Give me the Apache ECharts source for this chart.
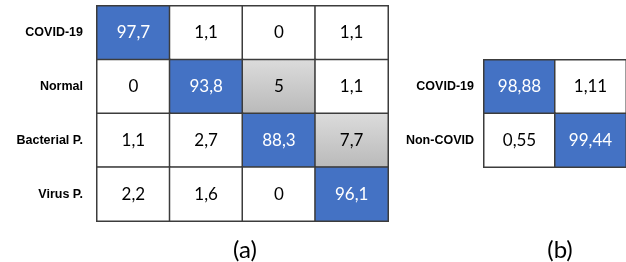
<!DOCTYPE html>
<html>
<head>
<meta charset="utf-8">
<script src="https://cdn.jsdelivr.net/npm/echarts@6/dist/echarts.min.js"></script>
<style>
  html, body { margin: 0; padding: 0; background: #fff; }
  #chart { width: 626px; height: 262px; }
</style>
</head>
<body>
<div id="chart"></div>
<script>
// matrice (a) : 4 classes
var classesA = ['COVID-19', 'Normal', 'Bacterial P.', 'Virus P.'];
var matrixA = [
  [97.7, 1.1, 0, 1.1],
  [0, 93.8, 5, 1.1],
  [1.1, 2.7, 88.3, 7.7],
  [2.2, 1.6, 0, 96.1]
];
// matrice (b) : 2 classes
var classesB = ['COVID-19', 'Non-COVID'];
var matrixB = [
  [98.88, 1.11],
  [0.55, 99.44]
];

var blue = '#4472c4';
var grey = {
  type: 'linear', x: 0, y: 0, x2: 0, y2: 1,
  colorStops: [{ offset: 0, color: '#dcdcdc' }, { offset: 1, color: '#b9b9b9' }]
};

function cells(m) {
  var out = [];
  m.forEach(function (row, r) {
    row.forEach(function (v, c) {
      var fill = '#ffffff', txt = '#000000';
      if (r === c) { fill = blue; txt = '#ffffff'; }
      else if (v >= 5) { fill = grey; }
      out.push({
        value: [c, r, v],
        itemStyle: { color: fill },
        label: { color: txt }
      });
    });
  });
  return out;
}

function fmt(p) {
  return String(p.value[2]).replace('.', ',');
}

var rowLabel = { color: '#000', fontFamily: 'Liberation Sans', fontWeight: 'bold', fontSize: 12.5 };

var chart = echarts.init(document.getElementById('chart'));

var option = {
  animation: false,
  grid: [
    { left: 97, top: 6, width: 291, height: 215 },
    { left: 484, top: 60, width: 146, height: 107 }
  ],
  xAxis: [
    { type: 'category', gridIndex: 0, data: classesA.map(function (d, i) { return i; }), show: false },
    { type: 'category', gridIndex: 1, data: classesB.map(function (d, i) { return i; }), show: false }
  ],
  yAxis: [
    {
      type: 'category', gridIndex: 0, data: classesA, inverse: true,
      axisLine: { show: false }, axisTick: { show: false },
      axisLabel: Object.assign({ margin: 14 }, rowLabel)
    },
    {
      type: 'category', gridIndex: 1, data: classesB, inverse: true,
      axisLine: { show: false }, axisTick: { show: false },
      axisLabel: Object.assign({ margin: 10 }, rowLabel)
    }
  ],
  series: [
    {
      type: 'heatmap', xAxisIndex: 0, yAxisIndex: 0,
      data: cells(matrixA),
      itemStyle: { borderColor: '#3c3c3c', borderWidth: 1.5 },
      label: { show: true, formatter: fmt, fontFamily: 'Lato', fontSize: 17 },
      emphasis: { disabled: true }
    },
    {
      type: 'heatmap', xAxisIndex: 1, yAxisIndex: 1,
      data: cells(matrixB),
      itemStyle: { borderColor: '#3c3c3c', borderWidth: 1.5 },
      label: { show: true, formatter: fmt, fontFamily: 'Lato', fontSize: 17 },
      emphasis: { disabled: true }
    }
  ],
  graphic: [
    { type: 'text', x: 245, y: 250, style: { text: '(a)', fill: '#000', font: '24px Lato', textAlign: 'center', textVerticalAlign: 'middle' } },
    { type: 'text', x: 560, y: 250, style: { text: '(b)', fill: '#000', font: '24px Lato', textAlign: 'center', textVerticalAlign: 'middle' } }
  ]
};

chart.setOption(option);
</script>
</body>
</html>
